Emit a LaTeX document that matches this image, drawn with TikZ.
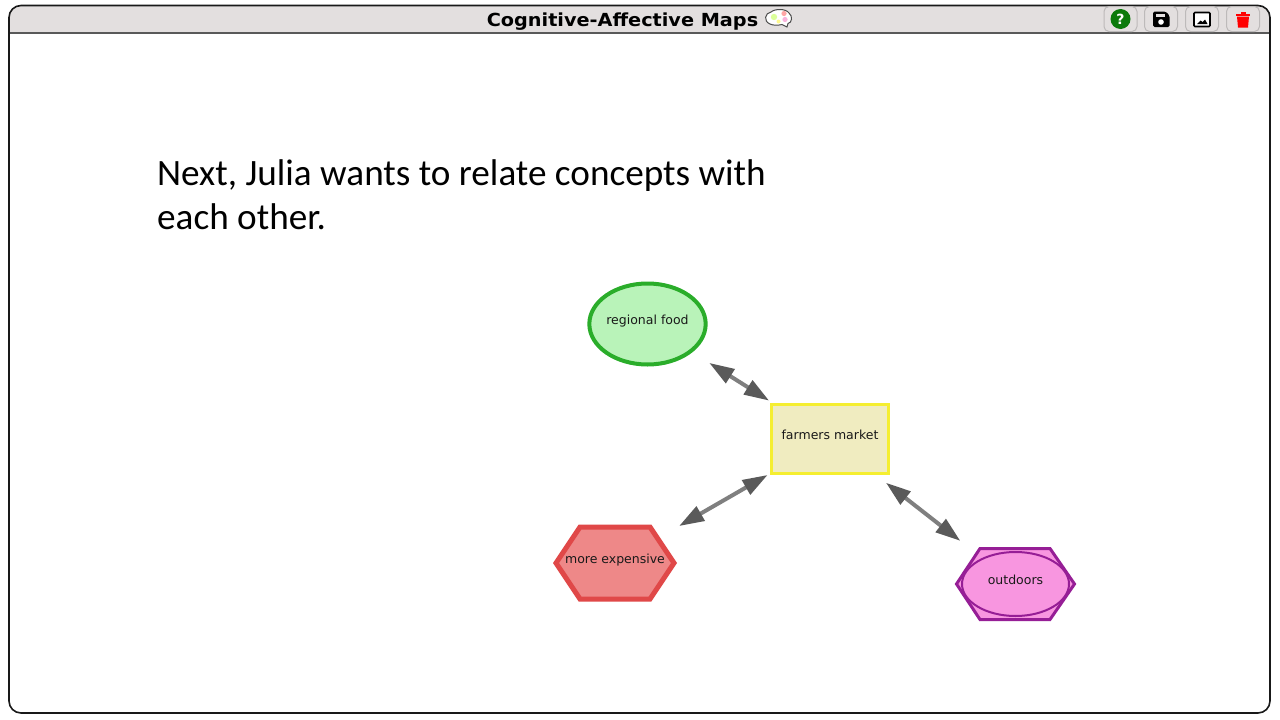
\documentclass[tikz,border=0pt]{standalone}
\usepackage{fontspec}
\setmainfont{DejaVu Sans}
\newfontfamily\bodyfont{Carlito}
\newfontfamily\titlefont[FakeStretch=1.07]{DejaVu Sans Bold}
\usetikzlibrary{arrows.meta,shapes.geometric}
\definecolor{barbg}{HTML}{E3DFDF}
\definecolor{btnline}{HTML}{BDBABA}
\definecolor{shaftc}{HTML}{7F7F7F}
\definecolor{tipc}{HTML}{5A5A5A}
\definecolor{greenline}{HTML}{2AAD2A}
\definecolor{greenfill}{HTML}{B9F3B9}
\definecolor{yellowline}{HTML}{F5EE30}
\definecolor{yellowfill}{HTML}{F0ECC0}
\definecolor{redline}{HTML}{E04848}
\definecolor{redfill}{HTML}{EE8888}
\definecolor{purpleline}{HTML}{961E96}
\definecolor{purplefill}{HTML}{F896E0}
\definecolor{helpgreen}{HTML}{0B7A0B}
\tikzset{
  lbl/.style={font=\fontsize{12.5}{15}\selectfont,text=black!90},
  btn/.style={draw=btnline,line width=1pt,rounded corners=5pt,minimum width=33pt,minimum height=25pt,inner sep=0pt,fill=barbg},
  link/.style={draw=shaftc,line width=4pt,{Triangle[length=25pt,width=16pt,color=tipc]}-{Triangle[length=25pt,width=16pt,color=tipc]}},
}
\begin{document}
\begin{tikzpicture}[x=1pt,y=-1pt]
\useasboundingbox (0,0) rectangle (1280,720);
\fill[white] (0,0) rectangle (1280,720);
% window
\fill[barbg,rounded corners=12pt] (9,5.5) rectangle (1270,45);
\fill[white] (9,33) rectangle (1270,50);
\draw[black!65,line width=1.2pt] (9,33) -- (1270,33);
\draw[black!90,line width=1.6pt,rounded corners=12pt] (9,5.5) rectangle (1270,713);
% title
\node[anchor=base,inner sep=0pt,font=\titlefont\fontsize{18}{20}\selectfont] (title) at (622.5,26.5) {Cognitive-Affective Maps};
% brain icon
\draw[black!70,line width=1pt,fill=white] (770,24) .. controls (763,21) and (765,13) .. (771,12) .. controls (775,8.5) and (786,8.5) .. (789,13) .. controls (793,16) and (792,23) .. (788,23.5) .. controls (787,25) and (787,26) .. (787,27) .. controls (785,26) and (784,25) .. (782,24.5) .. controls (778,25.5) and (773,25.5) .. (770,24) -- cycle;
\fill[green!35!yellow!40] (774,17) circle (3.2pt);
\fill[red!35] (784,13.5) circle (2.6pt);
\fill[magenta!30] (785,19.5) circle (2.6pt);
\fill[yellow!45] (778.5,21.5) circle (2pt);
% buttons
\node[btn] (bhelp) at (1120.5,19) {};
\node[btn] (bsave) at (1161,19) {};
\node[btn] (bimg) at (1202,19) {};
\node[btn] (bdel) at (1243,19) {};
\node[circle,fill=helpgreen,minimum size=20pt,inner sep=0pt,text=white,font=\fontsize{14}{14}\selectfont\bfseries] (qmark) at (bhelp) {?};
% save icon
\fill[black,rounded corners=1.5pt] (1153,11.5) -- (1165.5,11.5) -- (1169.5,15.5) -- (1169.5,27) -- (1153,27) -- cycle;
\fill[barbg] (1155.5,14) rectangle (1165,16.5);
\fill[white] (1161,22) circle (2.8pt);
% image icon
\draw[black,line width=1.6pt,fill=white,rounded corners=1pt] (1194,12.5) rectangle (1210,26.5);
\fill[black] (1197,24) -- (1200.5,20.5) -- (1202.5,22) -- (1205,19.5) -- (1207.5,24) -- cycle;
% trash icon
\fill[red] (1236,13.5) rectangle (1250,15.5);
\fill[red] (1240.5,11.5) rectangle (1245.5,14);
\fill[red] (1237,16.5) -- (1249,16.5) -- (1248,27.5) -- (1238,27.5) -- cycle;
% body text
\node[anchor=base west,inner sep=0pt,align=left,font=\bodyfont\fontsize{37.2}{44}\selectfont] (intro) at (157,229) {Next, Julia wants to relate concepts with\\each other.};
% hexagon outlines
\draw[draw=redline,line width=5pt,fill=redfill,line join=miter] (556,563) -- (580,527) -- (650,527) -- (674,563) -- (650,599) -- (580,599) -- cycle;
\draw[draw=purpleline,line width=3pt,fill=purplefill] (956.5,584) -- (980,548.5) -- (1050,548.5) -- (1074.5,584) -- (1050,619.5) -- (980,619.5) -- cycle;
% concept nodes
\node[ellipse,draw=greenline,line width=4pt,fill=greenfill,minimum width=116pt,minimum height=81pt,inner sep=0pt,lbl] (food) at (647.5,324) {\raisebox{8pt}{regional food}};
\node[rectangle,draw=yellowline,line width=3pt,fill=yellowfill,minimum width=117pt,minimum height=69pt,inner sep=0pt,lbl] (market) at (830,439) {\raisebox{8pt}{farmers market}};
\node[lbl,inner sep=0pt,minimum width=110pt,minimum height=60pt] (expensive) at (615,563) {\raisebox{9.5pt}{more expensive}};
\node[ellipse,draw=purpleline,line width=2pt,fill=purplefill,minimum width=107pt,minimum height=64pt,inner sep=0pt,lbl] (outdoors) at (1015.5,584) {\raisebox{9.5pt}{outdoors}};
% connectors
\draw[link,shorten <=73pt,shorten >=72pt] (food.center) -- (market.center);
\draw[link,shorten <=72pt,shorten >=74pt] (market.center) -- (expensive.center);
\draw[link,shorten <=71pt,shorten >=70pt] (market.center) -- (outdoors.center);
\end{tikzpicture}
\end{document}
